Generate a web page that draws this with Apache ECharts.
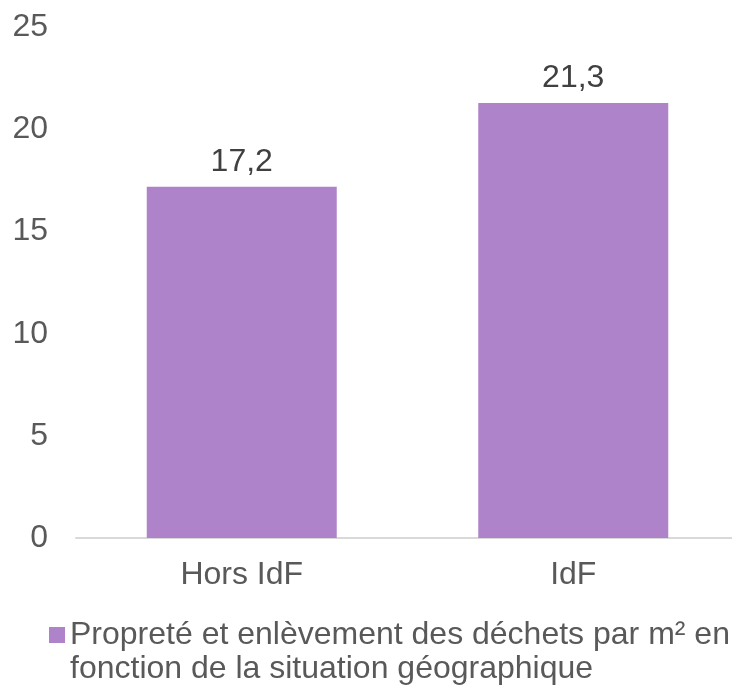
<!DOCTYPE html>
<html>
<head>
<meta charset="utf-8">
<script src="https://cdn.jsdelivr.net/npm/echarts@6/dist/echarts.min.js"></script>
<style>
  html, body { margin: 0; padding: 0; background: #fff; }
  #chart { width: 732px; height: 689px; }
</style>
</head>
<body>
<div id="chart"></div>
<script>
// data
var categories = ['Hors IdF', 'IdF'];
var values = [17.2, 21.3];
var seriesName = 'Propreté et enlèvement des déchets par m² en\nfonction de la situation géographique';

var textColor = '#595959';
var font = '"Liberation Sans", Arial, sans-serif';

var myChart = echarts.init(document.getElementById('chart'));

var option = {
  animation: false,
  grid: {
    left: 76,
    width: 663,
    top: 27.4,
    height: 510.6,
    outerBoundsMode: 'none'
  },
  xAxis: {
    type: 'category',
    data: categories,
    axisLine: { lineStyle: { color: '#d9d9d9', width: 2 } },
    axisTick: { show: false },
    axisLabel: { color: textColor, fontSize: 32, fontFamily: font, margin: 21 }
  },
  yAxis: {
    type: 'value',
    min: 0,
    max: 25,
    interval: 5,
    splitLine: { show: false },
    axisLine: { show: false },
    axisTick: { show: false },
    axisLabel: { color: textColor, fontSize: 32, fontFamily: font, margin: 28 }
  },
  legend: {
    left: 49,
    top: 584,
    padding: 0,
    icon: 'rect',
    itemWidth: 16,
    itemHeight: 16,
    textStyle: {
      color: textColor,
      fontSize: 32,
      fontFamily: font,
      lineHeight: 34
    },
    // blank first line so the marker lines up with the first line of text
    formatter: function (name) { return '\n' + name; },
    data: [seriesName]
  },
  series: [{
    name: seriesName,
    type: 'bar',
    data: values,
    barWidth: 190,
    itemStyle: { color: '#af83c9' },
    label: {
      show: true,
      position: 'top',
      distance: 9,
      color: '#404040',
      fontSize: 32,
      fontFamily: font,
      formatter: function (p) { return String(p.value).replace('.', ','); }
    }
  }]
};

myChart.setOption(option);
</script>
</body>
</html>
